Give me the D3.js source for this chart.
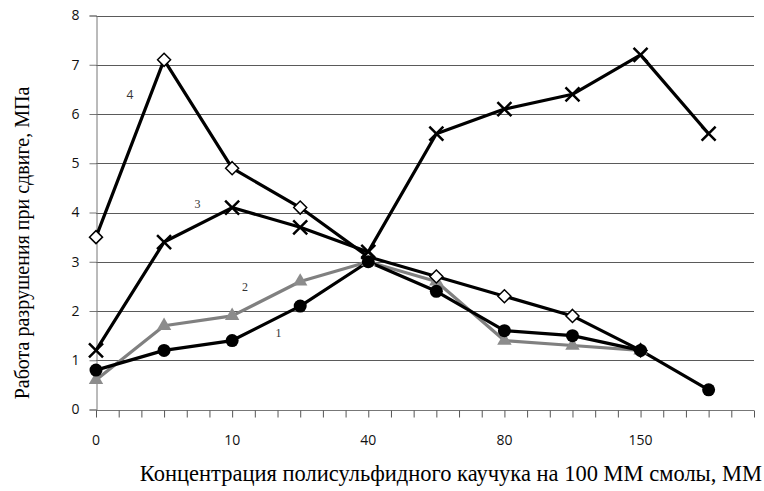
<!DOCTYPE html>
<html>
<head>
<meta charset="utf-8">
<script src="https://cdn.jsdelivr.net/npm/d3@7"></script>
<style>
  body { margin: 0; background: #fff; }
  svg { display: block; }
</style>
</head>
<body>
<svg id="chart"></svg>
<script>
// подписи категорий (подписана каждая вторая точка)
const tickLabels = ["0", "10", "40", "80", "150"];
const tickIndex = [0, 2, 4, 6, 8];

// значения серий по точкам 0..9
const series1 = [0.8, 1.2, 1.4, 2.1, 3.0, 2.4, 1.6, 1.5, 1.2, 0.4];
const series2 = [0.6, 1.7, 1.9, 2.6, 3.0, 2.6, 1.4, 1.3, 1.2];
const series3 = [1.2, 3.4, 4.1, 3.7, 3.2, 5.6, 6.1, 6.4, 7.2, 5.6];
const series4 = [3.5, 7.1, 4.9, 4.1, 3.1, 2.7, 2.3, 1.9, 1.2];

const seriesNames = ["1", "2", "3", "4"];
const labelAt = [[2.68, 1.55], [2.19, 2.49], [1.49, 4.17], [0.5, 6.39]];

const width = 764, height = 491;
const margin = { left: 96, right: 10, top: 16, bottom: 81 };

const svg = d3.select("#chart")
  .attr("width", width)
  .attr("height", height);

// ось X: 29 малых делений, точка данных через каждые 3
const x = d3.scaleLinear()
  .domain([0, 29 / 3])
  .range([margin.left, 754]);

const y = d3.scaleLinear()
  .domain([0, 8])
  .range([409.5, 15.5]);

// сетка
svg.append("g")
  .selectAll("line")
  .data(d3.range(1, 9))
  .enter()
  .append("line")
  .attr("x1", x(0))
  .attr("x2", x(29 / 3))
  .attr("y1", d => Math.round(y(d)) + 0.5)
  .attr("y2", d => Math.round(y(d)) + 0.5)
  .attr("stroke", "#5a5a5a")
  .attr("stroke-width", 1);

// ось Y
const yAxis = svg.append("g")
  .attr("transform", `translate(${x(0) + 0.5},0)`)
  .call(d3.axisLeft(y).ticks(8).tickSize(7).tickPadding(10).tickFormat(d3.format("d")));
yAxis.select(".domain").attr("stroke", "#777");
yAxis.selectAll(".tick line").attr("stroke", "#777");
yAxis.selectAll("text")
  .attr("font-family", "'Open Sans', sans-serif")
  .attr("font-size", 14)
  .attr("fill", "#111");

// ось X: малые деления
const xAxis = svg.append("g")
  .attr("transform", `translate(0,${Math.round(y(0)) + 0.5})`)
  .call(d3.axisBottom(x)
    .tickValues(d3.range(0, 30).map(i => i / 3))
    .tickSize(7)
    .tickFormat(""));
xAxis.select(".domain").attr("stroke", "#777").attr("d", `M${x(0)},0H${x(29 / 3)}`);
xAxis.selectAll(".tick line").attr("stroke", "#555");

// подписи оси X
svg.append("g")
  .selectAll("text")
  .data(tickLabels)
  .enter()
  .append("text")
  .attr("x", (d, i) => x(tickIndex[i]))
  .attr("y", 445)
  .attr("text-anchor", "middle")
  .attr("font-family", "'Open Sans', sans-serif")
  .attr("font-size", 14)
  .attr("fill", "#111")
  .text(d => d);

const line = d3.line()
  .x((d, i) => x(i))
  .y(d => y(d));

function drawLine(data, color) {
  svg.append("path")
    .datum(data)
    .attr("d", line)
    .attr("fill", "none")
    .attr("stroke", color)
    .attr("stroke-width", 3.2)
    .attr("stroke-linejoin", "round");
}

drawLine(series2, "#808080");
drawLine(series4, "#000");
drawLine(series3, "#000");
drawLine(series1, "#000");

// маркеры
svg.append("g")
  .selectAll("path")
  .data(series2)
  .enter()
  .append("path")
  .attr("transform", (d, i) => `translate(${x(i)},${y(d)})`)
  .attr("d", d3.symbol(d3.symbolTriangle, 90))
  .attr("fill", "#8c8c8c");

svg.append("g")
  .selectAll("path")
  .data(series4)
  .enter()
  .append("path")
  .attr("transform", (d, i) => `translate(${x(i)},${y(d)})`)
  .attr("d", "M0,-6.5L6.5,0L0,6.5L-6.5,0Z")
  .attr("fill", "#fff")
  .attr("stroke", "#000")
  .attr("stroke-width", 1.5);

svg.append("g")
  .selectAll("path")
  .data(series3)
  .enter()
  .append("path")
  .attr("transform", (d, i) => `translate(${x(i)},${y(d)})`)
  .attr("d", "M-7,-7L7,7M-7,7L7,-7")
  .attr("stroke", "#000")
  .attr("stroke-width", 2.5)
  .attr("fill", "none");

svg.append("g")
  .selectAll("circle")
  .data(series1)
  .enter()
  .append("circle")
  .attr("cx", (d, i) => x(i))
  .attr("cy", d => y(d))
  .attr("r", 6.5)
  .attr("fill", "#000");

// номера кривых
svg.append("g")
  .selectAll("text")
  .data(seriesNames)
  .enter()
  .append("text")
  .attr("x", (d, i) => x(labelAt[i][0]))
  .attr("y", (d, i) => y(labelAt[i][1]))
  .attr("text-anchor", "middle")
  .attr("dy", "0.35em")
  .attr("font-family", d => d === "4" ? "'Open Sans', sans-serif" : "'Liberation Serif', serif")
  .attr("font-size", 12)
  .attr("fill", "#333")
  .text(d => d);

// подписи осей
svg.append("text")
  .attr("x", 762)
  .attr("y", 481)
  .attr("text-anchor", "end")
  .attr("font-family", "'Liberation Serif', serif")
  .attr("font-size", 22.5)
  .attr("fill", "#000")
  .text("Концентрация полисульфидного каучука на 100 ММ смолы, ММ");

svg.append("text")
  .attr("transform", "translate(29,243) rotate(-90)")
  .attr("text-anchor", "middle")
  .attr("font-family", "'Liberation Serif', serif")
  .attr("font-size", 20)
  .attr("fill", "#000")
  .text("Работа разрушения при сдвиге, МПа");
</script>
</body>
</html>
